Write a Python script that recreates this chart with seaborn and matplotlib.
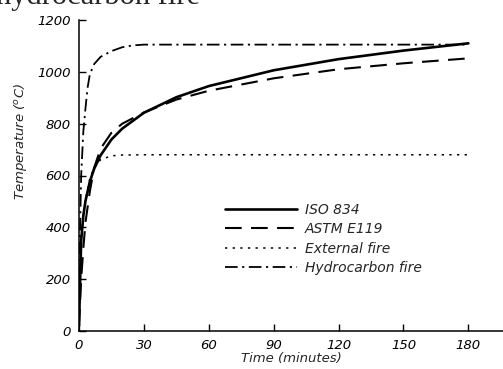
import matplotlib
matplotlib.use("Agg")
import matplotlib.pyplot as plt
import seaborn as sns
import pandas as pd

# ---- data ----
iso_time = [0, 1, 2, 3, 5, 7, 10, 15, 20, 30, 45, 60, 90, 120, 150, 180]
iso_temp = [20, 349, 445, 502, 576, 626, 678, 739, 781, 842, 902, 945, 1006, 1049, 1082, 1110]

astm_time = [0, 1, 2, 3, 5, 7, 10, 15, 20, 30, 45, 60, 90, 120, 150, 180]
astm_temp = [20, 200, 320, 420, 538, 630, 704, 765, 800, 843, 893, 927, 975, 1010, 1033, 1052]

ext_time = [0, 1, 2, 3, 5, 7, 10, 15, 20, 30, 60, 120, 180]
ext_temp = [20, 346, 441, 506, 588, 632, 661, 676, 679, 680, 680, 680, 680]

hc_time = [0, 0.5, 1, 2, 3, 4, 5, 7, 10, 15, 20, 25, 30, 60, 120, 180]
hc_temp = [20, 400, 600, 770, 860, 940, 990, 1030, 1058, 1080, 1095, 1102, 1105, 1105, 1105, 1105]

x_ticks = [0, 30, 60, 90, 120, 150, 180]
y_ticks = [0, 200, 400, 600, 800, 1000, 1200]

labels = ["ISO 834", "ASTM E119", "External fire", "Hydrocarbon fire"]

sns.set_style("ticks")
plt.rcParams["font.family"] = ["DejaVu Sans"]
plt.rcParams["font.style"] = "italic"

fig = plt.figure(figsize=(5.03, 3.69), dpi=100)
ax = fig.add_axes([79 / 503, 38 / 369, 424 / 503, 311 / 369])

series = [
    (iso_time, iso_temp, dict(lw=1.9, linestyle="-")),
    (astm_time, astm_temp, dict(lw=1.5, dashes=(8, 4.5))),
    (ext_time, ext_temp, dict(lw=1.1, dashes=(1.5, 3.5))),
    (hc_time, hc_temp, dict(lw=1.3, dashes=(7, 2.5, 1.2, 2.5))),
]
for (t, v, sty), lab in zip(series, labels):
    df = pd.DataFrame({"t": t, "v": v})
    sns.lineplot(data=df, x="t", y="v", ax=ax, color="black", label=lab, **sty)

ax.set_xlim(0, 196)
ax.set_ylim(0, 1200)
ax.set_xticks(x_ticks)
ax.set_yticks(y_ticks)
ax.set_xticklabels([str(v) for v in x_ticks], fontsize=9.5, style="italic")
ax.set_yticklabels([str(v) for v in y_ticks], fontsize=9.5, style="italic")
ax.tick_params(direction="in", length=5, width=1, pad=6, colors="black")
for s in ["top", "right"]:
    ax.spines[s].set_visible(False)
for s in ["left", "bottom"]:
    ax.spines[s].set_linewidth(1.1)
    ax.spines[s].set_color("black")

ax.set_xlabel("Time (minutes)", fontsize=9.5, style="italic")
ax.set_ylabel("Temperature ($^o$C)", fontsize=9.5, style="italic")
ax.xaxis.set_label_coords(0.5, -0.068)
ax.yaxis.set_label_coords(-0.118, 0.61)

leg = ax.legend(loc="upper left", bbox_to_anchor=(225 / 503, 1 - 203 / 369),
                bbox_transform=fig.transFigure, frameon=False,
                handlelength=5.2, handletextpad=0.55, labelspacing=0.38,
                borderpad=0, borderaxespad=0, prop={"style": "italic", "size": 10})

fig.text(200 / 503, 1 - 4 / 369, "hydrocarbon fire", family="Liberation Serif",
         style="normal", fontsize=22, ha="right", va="baseline")

fig.savefig("out.png", dpi=100)
